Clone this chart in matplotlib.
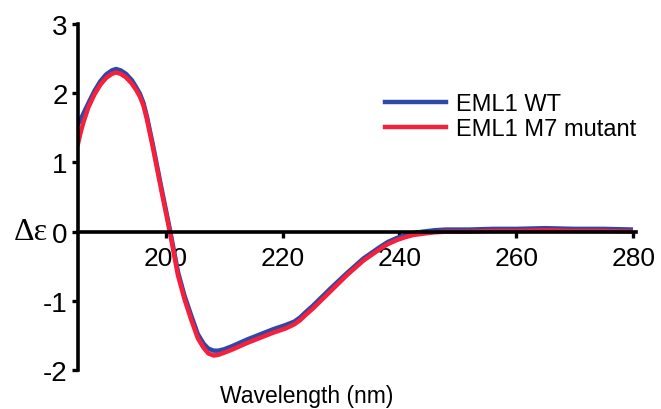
#!/usr/bin/env python3

import matplotlib
matplotlib.use("Agg")
import matplotlib.pyplot as plt

plt.rcParams["font.family"] = ["Liberation Sans", "DejaVu Sans"]

# CD spectra
wavelength = [185.0, 185.5, 186.0, 186.8, 187.8, 188.8, 189.8, 190.8, 191.5,
              192.3, 193.2, 194.2, 195.0, 195.6, 196.2, 196.8, 197.8, 199.3,
              200.7, 202.1, 203.2, 204.4, 205.5, 206.5, 207.3, 208.2, 209.0,
              210.0, 211.5, 213.9, 216.0, 218.4, 220.5, 222.0, 223.0, 224.0,
              225.2, 228.1, 231.0, 233.8, 236.7, 238.0, 239.6, 241.0, 242.3,
              244.0, 246.0, 248.0, 252.0, 256.0, 260.0, 265.0, 270.0, 275.0,
              280.0]

wt = [1.55, 1.63, 1.72, 1.86, 2.03, 2.17, 2.27, 2.33, 2.35,
      2.33, 2.28, 2.19, 2.08, 1.99, 1.86, 1.66, 1.26, 0.62,
      0.04, -0.58, -0.92, -1.22, -1.48, -1.62, -1.69, -1.72, -1.72,
      -1.70, -1.65, -1.56, -1.49, -1.41, -1.35, -1.30, -1.24, -1.16,
      -1.07, -0.83, -0.60, -0.39, -0.22, -0.15, -0.09, -0.05, -0.02,
      0.00, 0.02, 0.03, 0.03, 0.04, 0.04, 0.05, 0.04, 0.04,
      0.03]

m7 = [1.27, 1.45, 1.60, 1.80, 1.98, 2.12, 2.22, 2.28, 2.30,
      2.28, 2.23, 2.14, 2.04, 1.95, 1.82, 1.62, 1.22, 0.58,
      0.00, -0.63, -0.97, -1.28, -1.54, -1.68, -1.76, -1.79, -1.78,
      -1.75, -1.70, -1.61, -1.54, -1.46, -1.40, -1.34, -1.28, -1.20,
      -1.11, -0.87, -0.63, -0.42, -0.25, -0.18, -0.12, -0.08, -0.05,
      -0.03, -0.01, 0.00, 0.00, 0.01, 0.01, 0.02, 0.01, 0.01,
      0.00]

x_ticks = [200, 220, 240, 260, 280]
y_ticks = [-2, -1, 0, 1, 2, 3]


def main():
    fig = plt.figure(figsize=(6.61, 4.10), dpi=100)
    ax = fig.add_axes([0.118, 0.095, 0.840, 0.844])

    ax.plot(wavelength, wt, color="#2d48a8", linewidth=3.2, label="EML1 WT")
    ax.plot(wavelength, m7, color="#f5203c", linewidth=3.2, label="EML1 M7 mutant")

    ax.set_xlim(185, 280)
    ax.set_ylim(-2, 3)

    ax.spines["top"].set_visible(False)
    ax.spines["right"].set_visible(False)
    ax.spines["bottom"].set_position(("data", 0))
    ax.spines["bottom"].set_bounds(185, 280.5)
    ax.spines["left"].set_linewidth(2.6)
    ax.spines["bottom"].set_linewidth(2.6)

    ax.set_xticks(x_ticks)
    ax.set_yticks(y_ticks)
    ax.set_yticklabels([str(v) for v in y_ticks])
    ax.tick_params(axis="x", direction="out", length=4, width=2.4,
                   labelsize=19, pad=6)
    ax.tick_params(axis="y", direction="out", length=4.5, width=2.4,
                   labelsize=20, pad=3)

    fig.text(0.073, 1 - 233 / 410, "\u0394\u03b5", fontsize=23,
             family=["Liberation Serif", "DejaVu Serif"],
             ha="right", va="center")
    fig.text(307 / 661, 1 - 397 / 410, "Wavelength (nm)", fontsize=16.5,
             ha="center", va="center")

    fig.legend(loc="upper left", bbox_to_anchor=(385 / 661, 1 - 94 / 410),
               frameon=False, fontsize=17, handlelength=2.6,
               handletextpad=0.4, labelspacing=0.12, borderpad=0,
               borderaxespad=0)

    fig.savefig("out.png", dpi=100)


if __name__ == "__main__":
    main()
